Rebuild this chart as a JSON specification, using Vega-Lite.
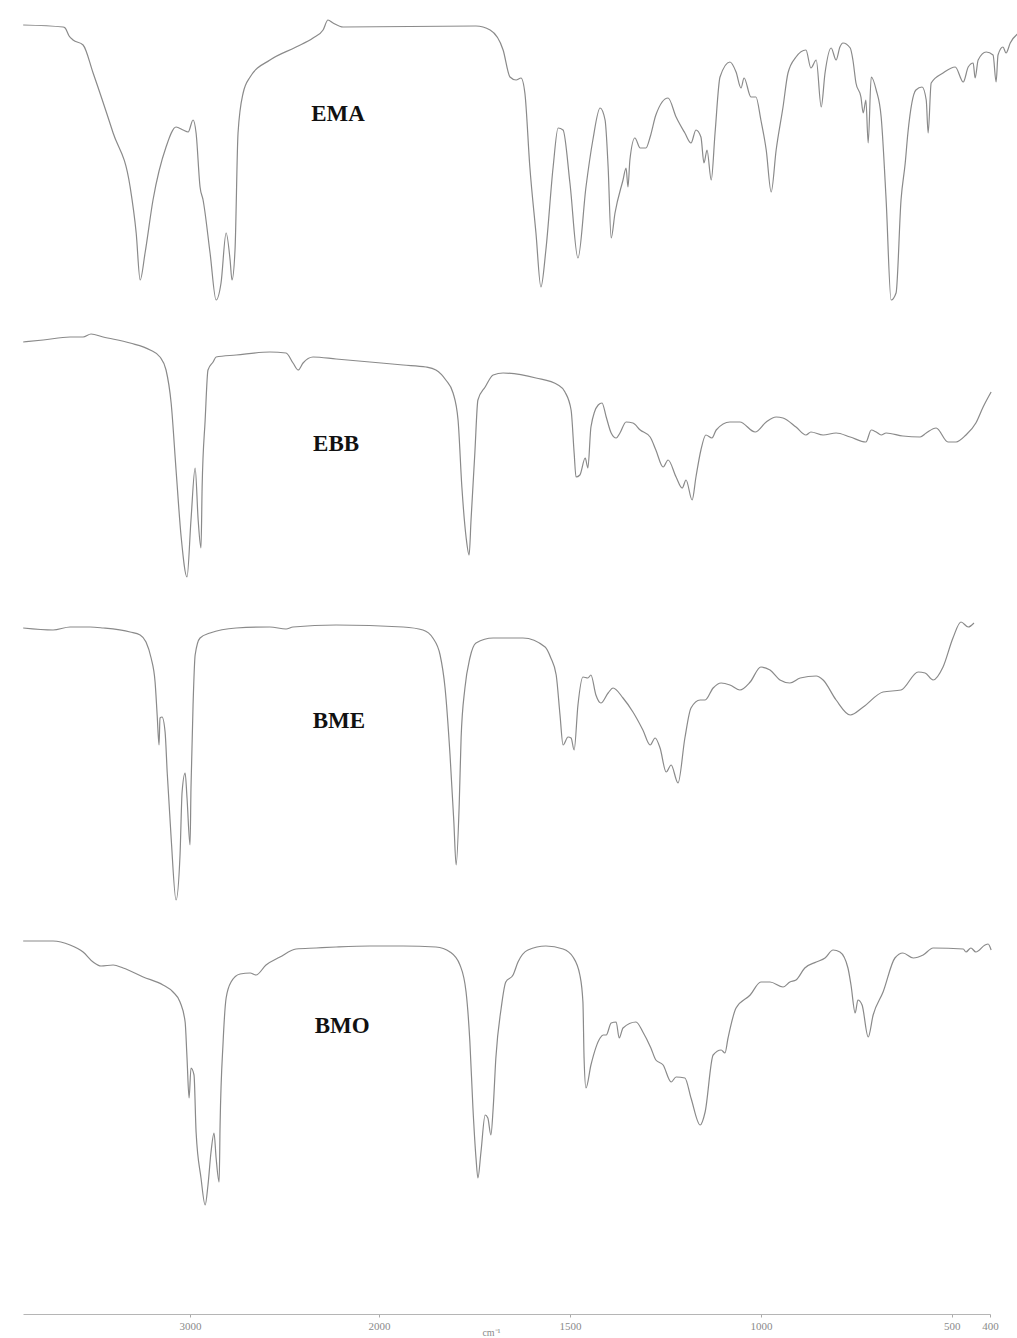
{
"$schema":"https://vega.github.io/schema/vega-lite/v6.json",
"width":967,"height":1314,
"padding":{"left":20,"top":0,"right":30,"bottom":10},
"autosize":{"type":"pad"},
"background":"white",
"config":{"view":{"stroke":null}},
"datasets":{
"labels":[
{"sample":"EMA","wn":2217,"y":114,"label":"EMA"},
{"sample":"EBB","wn":2227,"y":444,"label":"EBB"},
{"sample":"BME","wn":2212,"y":721,"label":"BME"},
{"sample":"BMO","wn":2195,"y":1026,"label":"BMO"}
],
"spectra":[
{"sample":"EMA","wn":3883,"y":25},{"sample":"EMA","wn":3672,"y":27},{"sample":"EMA","wn":3661,"y":28},{"sample":"EMA","wn":3640,"y":36},{"sample":"EMA","wn":3619,"y":40},{"sample":"EMA","wn":3566,"y":45},{"sample":"EMA","wn":3513,"y":73},{"sample":"EMA","wn":3407,"y":133},{"sample":"EMA","wn":3317,"y":187},{"sample":"EMA","wn":3285,"y":233},{"sample":"EMA","wn":3264,"y":280},{"sample":"EMA","wn":3238,"y":253},{"sample":"EMA","wn":3196,"y":200},{"sample":"EMA","wn":3127,"y":147},{"sample":"EMA","wn":3074,"y":127},{"sample":"EMA","wn":3037,"y":130},{"sample":"EMA","wn":3010,"y":132},{"sample":"EMA","wn":2984,"y":120},{"sample":"EMA","wn":2968,"y":133},{"sample":"EMA","wn":2947,"y":187},{"sample":"EMA","wn":2931,"y":200},{"sample":"EMA","wn":2894,"y":253},{"sample":"EMA","wn":2862,"y":300},{"sample":"EMA","wn":2836,"y":283},{"sample":"EMA","wn":2809,"y":233},{"sample":"EMA","wn":2788,"y":260},{"sample":"EMA","wn":2778,"y":280},{"sample":"EMA","wn":2762,"y":250},{"sample":"EMA","wn":2746,"y":133},{"sample":"EMA","wn":2719,"y":93},{"sample":"EMA","wn":2682,"y":77},{"sample":"EMA","wn":2577,"y":60},{"sample":"EMA","wn":2439,"y":47},{"sample":"EMA","wn":2349,"y":38},{"sample":"EMA","wn":2296,"y":30},{"sample":"EMA","wn":2270,"y":20},{"sample":"EMA","wn":2243,"y":23},{"sample":"EMA","wn":2190,"y":27},{"sample":"EMA","wn":1746,"y":26},{"sample":"EMA","wn":1709,"y":30},{"sample":"EMA","wn":1675,"y":50},{"sample":"EMA","wn":1657,"y":77},{"sample":"EMA","wn":1641,"y":80},{"sample":"EMA","wn":1628,"y":78},{"sample":"EMA","wn":1618,"y":93},{"sample":"EMA","wn":1605,"y":167},{"sample":"EMA","wn":1589,"y":233},{"sample":"EMA","wn":1576,"y":287},{"sample":"EMA","wn":1563,"y":250},{"sample":"EMA","wn":1544,"y":167},{"sample":"EMA","wn":1531,"y":128},{"sample":"EMA","wn":1518,"y":130},{"sample":"EMA","wn":1500,"y":183},{"sample":"EMA","wn":1479,"y":258},{"sample":"EMA","wn":1458,"y":187},{"sample":"EMA","wn":1440,"y":140},{"sample":"EMA","wn":1421,"y":108},{"sample":"EMA","wn":1408,"y":120},{"sample":"EMA","wn":1400,"y":167},{"sample":"EMA","wn":1392,"y":238},{"sample":"EMA","wn":1382,"y":213},{"sample":"EMA","wn":1361,"y":180},{"sample":"EMA","wn":1353,"y":168},{"sample":"EMA","wn":1348,"y":187},{"sample":"EMA","wn":1343,"y":160},{"sample":"EMA","wn":1330,"y":138},{"sample":"EMA","wn":1316,"y":148},{"sample":"EMA","wn":1301,"y":148},{"sample":"EMA","wn":1290,"y":137},{"sample":"EMA","wn":1275,"y":115},{"sample":"EMA","wn":1243,"y":98},{"sample":"EMA","wn":1222,"y":117},{"sample":"EMA","wn":1199,"y":133},{"sample":"EMA","wn":1183,"y":143},{"sample":"EMA","wn":1170,"y":130},{"sample":"EMA","wn":1157,"y":137},{"sample":"EMA","wn":1149,"y":163},{"sample":"EMA","wn":1141,"y":150},{"sample":"EMA","wn":1130,"y":180},{"sample":"EMA","wn":1120,"y":133},{"sample":"EMA","wn":1107,"y":77},{"sample":"EMA","wn":1081,"y":62},{"sample":"EMA","wn":1065,"y":72},{"sample":"EMA","wn":1052,"y":88},{"sample":"EMA","wn":1044,"y":78},{"sample":"EMA","wn":1026,"y":97},{"sample":"EMA","wn":1013,"y":97},{"sample":"EMA","wn":1000,"y":120},{"sample":"EMA","wn":986,"y":150},{"sample":"EMA","wn":973,"y":192},{"sample":"EMA","wn":960,"y":150},{"sample":"EMA","wn":942,"y":107},{"sample":"EMA","wn":929,"y":73},{"sample":"EMA","wn":908,"y":57},{"sample":"EMA","wn":882,"y":50},{"sample":"EMA","wn":869,"y":68},{"sample":"EMA","wn":855,"y":60},{"sample":"EMA","wn":842,"y":107},{"sample":"EMA","wn":832,"y":73},{"sample":"EMA","wn":816,"y":48},{"sample":"EMA","wn":803,"y":60},{"sample":"EMA","wn":793,"y":47},{"sample":"EMA","wn":785,"y":43},{"sample":"EMA","wn":766,"y":48},{"sample":"EMA","wn":759,"y":60},{"sample":"EMA","wn":751,"y":83},{"sample":"EMA","wn":738,"y":97},{"sample":"EMA","wn":732,"y":113},{"sample":"EMA","wn":725,"y":100},{"sample":"EMA","wn":719,"y":143},{"sample":"EMA","wn":711,"y":77},{"sample":"EMA","wn":698,"y":90},{"sample":"EMA","wn":685,"y":117},{"sample":"EMA","wn":672,"y":200},{"sample":"EMA","wn":659,"y":300},{"sample":"EMA","wn":646,"y":293},{"sample":"EMA","wn":633,"y":200},{"sample":"EMA","wn":622,"y":163},{"sample":"EMA","wn":615,"y":133},{"sample":"EMA","wn":594,"y":90},{"sample":"EMA","wn":578,"y":87},{"sample":"EMA","wn":567,"y":100},{"sample":"EMA","wn":562,"y":133},{"sample":"EMA","wn":554,"y":83},{"sample":"EMA","wn":523,"y":73},{"sample":"EMA","wn":491,"y":67},{"sample":"EMA","wn":470,"y":82},{"sample":"EMA","wn":457,"y":67},{"sample":"EMA","wn":444,"y":63},{"sample":"EMA","wn":439,"y":78},{"sample":"EMA","wn":431,"y":60},{"sample":"EMA","wn":410,"y":52},{"sample":"EMA","wn":392,"y":55},{"sample":"EMA","wn":384,"y":82},{"sample":"EMA","wn":379,"y":55},{"sample":"EMA","wn":366,"y":47},{"sample":"EMA","wn":358,"y":53},{"sample":"EMA","wn":347,"y":43},{"sample":"EMA","wn":321,"y":32},
{"sample":"EBB","wn":3883,"y":342},{"sample":"EBB","wn":3777,"y":340},{"sample":"EBB","wn":3635,"y":337},{"sample":"EBB","wn":3566,"y":337},{"sample":"EBB","wn":3524,"y":334},{"sample":"EBB","wn":3460,"y":337},{"sample":"EBB","wn":3317,"y":343},{"sample":"EBB","wn":3211,"y":350},{"sample":"EBB","wn":3159,"y":357},{"sample":"EBB","wn":3127,"y":370},{"sample":"EBB","wn":3100,"y":403},{"sample":"EBB","wn":3074,"y":470},{"sample":"EBB","wn":3047,"y":537},{"sample":"EBB","wn":3016,"y":577},{"sample":"EBB","wn":2995,"y":520},{"sample":"EBB","wn":2973,"y":468},{"sample":"EBB","wn":2957,"y":520},{"sample":"EBB","wn":2942,"y":548},{"sample":"EBB","wn":2936,"y":487},{"sample":"EBB","wn":2920,"y":420},{"sample":"EBB","wn":2905,"y":370},{"sample":"EBB","wn":2878,"y":362},{"sample":"EBB","wn":2862,"y":357},{"sample":"EBB","wn":2756,"y":355},{"sample":"EBB","wn":2577,"y":352},{"sample":"EBB","wn":2492,"y":353},{"sample":"EBB","wn":2455,"y":363},{"sample":"EBB","wn":2428,"y":370},{"sample":"EBB","wn":2402,"y":363},{"sample":"EBB","wn":2349,"y":357},{"sample":"EBB","wn":2227,"y":359},{"sample":"EBB","wn":2048,"y":362},{"sample":"EBB","wn":1937,"y":365},{"sample":"EBB","wn":1877,"y":367},{"sample":"EBB","wn":1851,"y":370},{"sample":"EBB","wn":1825,"y":380},{"sample":"EBB","wn":1806,"y":393},{"sample":"EBB","wn":1793,"y":420},{"sample":"EBB","wn":1783,"y":487},{"sample":"EBB","wn":1772,"y":537},{"sample":"EBB","wn":1764,"y":555},{"sample":"EBB","wn":1759,"y":520},{"sample":"EBB","wn":1749,"y":453},{"sample":"EBB","wn":1741,"y":400},{"sample":"EBB","wn":1722,"y":387},{"sample":"EBB","wn":1701,"y":375},{"sample":"EBB","wn":1675,"y":373},{"sample":"EBB","wn":1589,"y":378},{"sample":"EBB","wn":1531,"y":385},{"sample":"EBB","wn":1513,"y":392},{"sample":"EBB","wn":1497,"y":410},{"sample":"EBB","wn":1489,"y":453},{"sample":"EBB","wn":1484,"y":477},{"sample":"EBB","wn":1474,"y":475},{"sample":"EBB","wn":1460,"y":458},{"sample":"EBB","wn":1453,"y":468},{"sample":"EBB","wn":1445,"y":427},{"sample":"EBB","wn":1426,"y":405},{"sample":"EBB","wn":1416,"y":403},{"sample":"EBB","wn":1405,"y":417},{"sample":"EBB","wn":1392,"y":433},{"sample":"EBB","wn":1379,"y":438},{"sample":"EBB","wn":1369,"y":433},{"sample":"EBB","wn":1353,"y":422},{"sample":"EBB","wn":1335,"y":423},{"sample":"EBB","wn":1316,"y":430},{"sample":"EBB","wn":1290,"y":437},{"sample":"EBB","wn":1275,"y":450},{"sample":"EBB","wn":1256,"y":467},{"sample":"EBB","wn":1243,"y":460},{"sample":"EBB","wn":1222,"y":477},{"sample":"EBB","wn":1206,"y":488},{"sample":"EBB","wn":1196,"y":480},{"sample":"EBB","wn":1180,"y":500},{"sample":"EBB","wn":1170,"y":477},{"sample":"EBB","wn":1157,"y":450},{"sample":"EBB","wn":1144,"y":435},{"sample":"EBB","wn":1128,"y":438},{"sample":"EBB","wn":1117,"y":430},{"sample":"EBB","wn":1081,"y":422},{"sample":"EBB","wn":1055,"y":422},{"sample":"EBB","wn":1015,"y":432},{"sample":"EBB","wn":986,"y":422},{"sample":"EBB","wn":960,"y":417},{"sample":"EBB","wn":942,"y":418},{"sample":"EBB","wn":908,"y":427},{"sample":"EBB","wn":882,"y":435},{"sample":"EBB","wn":869,"y":432},{"sample":"EBB","wn":837,"y":435},{"sample":"EBB","wn":803,"y":433},{"sample":"EBB","wn":766,"y":437},{"sample":"EBB","wn":725,"y":442},{"sample":"EBB","wn":711,"y":430},{"sample":"EBB","wn":698,"y":432},{"sample":"EBB","wn":685,"y":435},{"sample":"EBB","wn":672,"y":433},{"sample":"EBB","wn":628,"y":436},{"sample":"EBB","wn":583,"y":437},{"sample":"EBB","wn":567,"y":433},{"sample":"EBB","wn":541,"y":428},{"sample":"EBB","wn":510,"y":442},{"sample":"EBB","wn":489,"y":442},{"sample":"EBB","wn":463,"y":435},{"sample":"EBB","wn":437,"y":423},{"sample":"EBB","wn":418,"y":407},{"sample":"EBB","wn":397,"y":392},
{"sample":"BME","wn":3883,"y":628},{"sample":"BME","wn":3725,"y":630},{"sample":"BME","wn":3635,"y":627},{"sample":"BME","wn":3529,"y":627},{"sample":"BME","wn":3460,"y":628},{"sample":"BME","wn":3317,"y":632},{"sample":"BME","wn":3264,"y":635},{"sample":"BME","wn":3233,"y":642},{"sample":"BME","wn":3206,"y":658},{"sample":"BME","wn":3185,"y":682},{"sample":"BME","wn":3174,"y":715},{"sample":"BME","wn":3164,"y":745},{"sample":"BME","wn":3159,"y":718},{"sample":"BME","wn":3148,"y":717},{"sample":"BME","wn":3132,"y":732},{"sample":"BME","wn":3121,"y":772},{"sample":"BME","wn":3100,"y":838},{"sample":"BME","wn":3074,"y":900},{"sample":"BME","wn":3053,"y":855},{"sample":"BME","wn":3042,"y":792},{"sample":"BME","wn":3026,"y":773},{"sample":"BME","wn":3016,"y":798},{"sample":"BME","wn":3000,"y":845},{"sample":"BME","wn":2995,"y":788},{"sample":"BME","wn":2984,"y":705},{"sample":"BME","wn":2973,"y":655},{"sample":"BME","wn":2947,"y":638},{"sample":"BME","wn":2894,"y":633},{"sample":"BME","wn":2756,"y":628},{"sample":"BME","wn":2577,"y":627},{"sample":"BME","wn":2492,"y":629},{"sample":"BME","wn":2455,"y":627},{"sample":"BME","wn":2227,"y":625},{"sample":"BME","wn":1937,"y":627},{"sample":"BME","wn":1885,"y":630},{"sample":"BME","wn":1859,"y":638},{"sample":"BME","wn":1840,"y":655},{"sample":"BME","wn":1827,"y":688},{"sample":"BME","wn":1814,"y":755},{"sample":"BME","wn":1804,"y":822},{"sample":"BME","wn":1798,"y":865},{"sample":"BME","wn":1790,"y":805},{"sample":"BME","wn":1785,"y":738},{"sample":"BME","wn":1775,"y":688},{"sample":"BME","wn":1762,"y":658},{"sample":"BME","wn":1746,"y":643},{"sample":"BME","wn":1701,"y":638},{"sample":"BME","wn":1623,"y":638},{"sample":"BME","wn":1565,"y":647},{"sample":"BME","wn":1550,"y":658},{"sample":"BME","wn":1536,"y":675},{"sample":"BME","wn":1526,"y":715},{"sample":"BME","wn":1518,"y":745},{"sample":"BME","wn":1505,"y":737},{"sample":"BME","wn":1497,"y":738},{"sample":"BME","wn":1489,"y":750},{"sample":"BME","wn":1479,"y":705},{"sample":"BME","wn":1466,"y":677},{"sample":"BME","wn":1453,"y":678},{"sample":"BME","wn":1445,"y":675},{"sample":"BME","wn":1432,"y":695},{"sample":"BME","wn":1419,"y":703},{"sample":"BME","wn":1400,"y":693},{"sample":"BME","wn":1387,"y":688},{"sample":"BME","wn":1361,"y":698},{"sample":"BME","wn":1335,"y":712},{"sample":"BME","wn":1309,"y":730},{"sample":"BME","wn":1290,"y":745},{"sample":"BME","wn":1277,"y":738},{"sample":"BME","wn":1264,"y":748},{"sample":"BME","wn":1248,"y":772},{"sample":"BME","wn":1235,"y":765},{"sample":"BME","wn":1217,"y":783},{"sample":"BME","wn":1199,"y":738},{"sample":"BME","wn":1183,"y":708},{"sample":"BME","wn":1159,"y":700},{"sample":"BME","wn":1146,"y":700},{"sample":"BME","wn":1125,"y":688},{"sample":"BME","wn":1104,"y":683},{"sample":"BME","wn":1081,"y":685},{"sample":"BME","wn":1055,"y":690},{"sample":"BME","wn":1028,"y":682},{"sample":"BME","wn":1000,"y":667},{"sample":"BME","wn":976,"y":670},{"sample":"BME","wn":950,"y":680},{"sample":"BME","wn":924,"y":683},{"sample":"BME","wn":897,"y":678},{"sample":"BME","wn":855,"y":676},{"sample":"BME","wn":837,"y":680},{"sample":"BME","wn":803,"y":700},{"sample":"BME","wn":766,"y":715},{"sample":"BME","wn":732,"y":707},{"sample":"BME","wn":680,"y":692},{"sample":"BME","wn":633,"y":690},{"sample":"BME","wn":588,"y":672},{"sample":"BME","wn":570,"y":673},{"sample":"BME","wn":549,"y":680},{"sample":"BME","wn":523,"y":667},{"sample":"BME","wn":497,"y":638},{"sample":"BME","wn":476,"y":622},{"sample":"BME","wn":457,"y":627},{"sample":"BME","wn":442,"y":623},
{"sample":"BMO","wn":3883,"y":941},{"sample":"BMO","wn":3725,"y":941},{"sample":"BMO","wn":3635,"y":945},{"sample":"BMO","wn":3566,"y":952},{"sample":"BMO","wn":3513,"y":962},{"sample":"BMO","wn":3471,"y":966},{"sample":"BMO","wn":3407,"y":965},{"sample":"BMO","wn":3354,"y":968},{"sample":"BMO","wn":3248,"y":977},{"sample":"BMO","wn":3143,"y":985},{"sample":"BMO","wn":3090,"y":992},{"sample":"BMO","wn":3053,"y":1002},{"sample":"BMO","wn":3026,"y":1022},{"sample":"BMO","wn":3016,"y":1058},{"sample":"BMO","wn":3005,"y":1098},{"sample":"BMO","wn":2995,"y":1068},{"sample":"BMO","wn":2979,"y":1075},{"sample":"BMO","wn":2968,"y":1132},{"sample":"BMO","wn":2942,"y":1178},{"sample":"BMO","wn":2920,"y":1205},{"sample":"BMO","wn":2905,"y":1185},{"sample":"BMO","wn":2889,"y":1152},{"sample":"BMO","wn":2873,"y":1133},{"sample":"BMO","wn":2862,"y":1158},{"sample":"BMO","wn":2846,"y":1182},{"sample":"BMO","wn":2841,"y":1125},{"sample":"BMO","wn":2825,"y":1042},{"sample":"BMO","wn":2809,"y":998},{"sample":"BMO","wn":2783,"y":982},{"sample":"BMO","wn":2735,"y":974},{"sample":"BMO","wn":2682,"y":973},{"sample":"BMO","wn":2651,"y":975},{"sample":"BMO","wn":2598,"y":965},{"sample":"BMO","wn":2524,"y":957},{"sample":"BMO","wn":2439,"y":949},{"sample":"BMO","wn":2333,"y":948},{"sample":"BMO","wn":2227,"y":947},{"sample":"BMO","wn":2048,"y":946},{"sample":"BMO","wn":1937,"y":946},{"sample":"BMO","wn":1851,"y":947},{"sample":"BMO","wn":1814,"y":952},{"sample":"BMO","wn":1788,"y":965},{"sample":"BMO","wn":1772,"y":992},{"sample":"BMO","wn":1762,"y":1042},{"sample":"BMO","wn":1754,"y":1108},{"sample":"BMO","wn":1746,"y":1158},{"sample":"BMO","wn":1741,"y":1178},{"sample":"BMO","wn":1733,"y":1152},{"sample":"BMO","wn":1722,"y":1115},{"sample":"BMO","wn":1715,"y":1118},{"sample":"BMO","wn":1707,"y":1135},{"sample":"BMO","wn":1701,"y":1108},{"sample":"BMO","wn":1694,"y":1058},{"sample":"BMO","wn":1680,"y":1008},{"sample":"BMO","wn":1668,"y":982},{"sample":"BMO","wn":1649,"y":975},{"sample":"BMO","wn":1636,"y":962},{"sample":"BMO","wn":1610,"y":950},{"sample":"BMO","wn":1563,"y":946},{"sample":"BMO","wn":1518,"y":949},{"sample":"BMO","wn":1492,"y":957},{"sample":"BMO","wn":1474,"y":975},{"sample":"BMO","wn":1466,"y":1002},{"sample":"BMO","wn":1463,"y":1058},{"sample":"BMO","wn":1458,"y":1088},{"sample":"BMO","wn":1445,"y":1065},{"sample":"BMO","wn":1421,"y":1038},{"sample":"BMO","wn":1413,"y":1035},{"sample":"BMO","wn":1405,"y":1035},{"sample":"BMO","wn":1392,"y":1023},{"sample":"BMO","wn":1379,"y":1022},{"sample":"BMO","wn":1371,"y":1038},{"sample":"BMO","wn":1361,"y":1028},{"sample":"BMO","wn":1327,"y":1022},{"sample":"BMO","wn":1309,"y":1032},{"sample":"BMO","wn":1288,"y":1048},{"sample":"BMO","wn":1275,"y":1060},{"sample":"BMO","wn":1256,"y":1065},{"sample":"BMO","wn":1235,"y":1082},{"sample":"BMO","wn":1222,"y":1077},{"sample":"BMO","wn":1199,"y":1078},{"sample":"BMO","wn":1183,"y":1098},{"sample":"BMO","wn":1159,"y":1125},{"sample":"BMO","wn":1146,"y":1112},{"sample":"BMO","wn":1125,"y":1055},{"sample":"BMO","wn":1104,"y":1050},{"sample":"BMO","wn":1094,"y":1053},{"sample":"BMO","wn":1086,"y":1038},{"sample":"BMO","wn":1065,"y":1008},{"sample":"BMO","wn":1028,"y":995},{"sample":"BMO","wn":1000,"y":982},{"sample":"BMO","wn":976,"y":982},{"sample":"BMO","wn":942,"y":987},{"sample":"BMO","wn":924,"y":982},{"sample":"BMO","wn":908,"y":980},{"sample":"BMO","wn":885,"y":968},{"sample":"BMO","wn":855,"y":962},{"sample":"BMO","wn":832,"y":958},{"sample":"BMO","wn":811,"y":950},{"sample":"BMO","wn":793,"y":952},{"sample":"BMO","wn":772,"y":968},{"sample":"BMO","wn":764,"y":985},{"sample":"BMO","wn":753,"y":1013},{"sample":"BMO","wn":746,"y":1000},{"sample":"BMO","wn":735,"y":1005},{"sample":"BMO","wn":719,"y":1037},{"sample":"BMO","wn":706,"y":1015},{"sample":"BMO","wn":680,"y":992},{"sample":"BMO","wn":649,"y":958},{"sample":"BMO","wn":628,"y":953},{"sample":"BMO","wn":601,"y":958},{"sample":"BMO","wn":575,"y":955},{"sample":"BMO","wn":549,"y":948},{"sample":"BMO","wn":470,"y":949},{"sample":"BMO","wn":463,"y":952},{"sample":"BMO","wn":450,"y":948},{"sample":"BMO","wn":437,"y":952},{"sample":"BMO","wn":413,"y":945},{"sample":"BMO","wn":405,"y":944},{"sample":"BMO","wn":397,"y":950}
]},
"layer":[
{"data":{"name":"spectra"},
 "mark":{"type":"line","color":"#8a8a8a","strokeWidth":1.2,"interpolate":"monotone"},
 "encoding":{
  "x":{"field":"wn","type":"quantitative",
   "scale":{"domain":[3884,2000,400],"range":[0,356,967],"nice":false,"zero":false},
   "axis":{"values":[3000,2000,1500,1000,500,400],"format":"d","title":"cm⁻¹","grid":false,
    "labelFont":"Liberation Serif","labelFontSize":11,"labelColor":"#8a8a8a","labelPadding":3,
    "labelFlush":false,"labelOverlap":false,
    "domainColor":"#b5b5b5","tickColor":"#aaa","tickSize":3,
    "titleFont":"Liberation Serif","titleFontSize":10,"titleFontWeight":"normal","titleColor":"#8a8a8a",
    "titleX":468,"titleY":13,"titleBaseline":"top","titleAnchor":"middle","titleAlign":"center"}},
  "y":{"field":"y","type":"quantitative","scale":{"domain":[0,1314],"reverse":true,"nice":false,"zero":false},"axis":null},
  "detail":{"field":"sample"}}},
{"data":{"name":"labels"},
 "mark":{"type":"text","font":"Liberation Serif","fontWeight":"bold","fontSize":23,"color":"#111","align":"center","baseline":"middle"},
 "encoding":{
  "x":{"field":"wn","type":"quantitative"},
  "y":{"field":"y","type":"quantitative"},
  "text":{"field":"label"}}}
]
}
